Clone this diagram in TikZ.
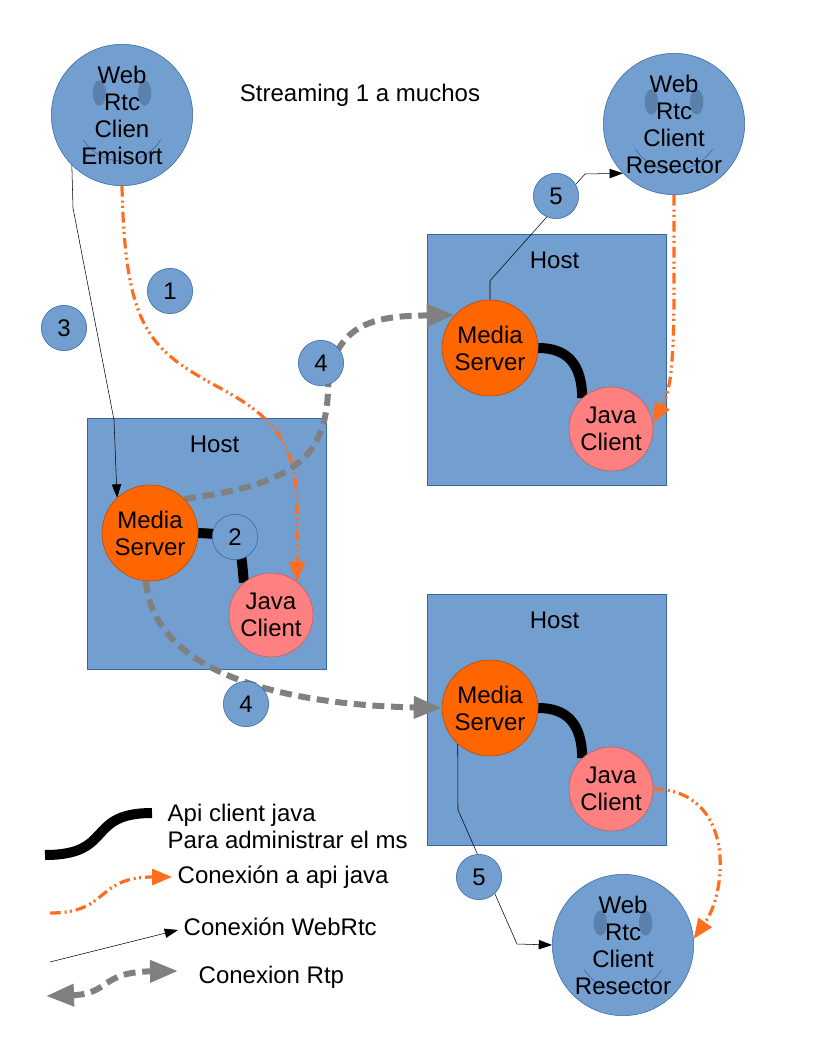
\documentclass[tikz,border=0pt]{standalone}
\usepackage{fontspec}
\setmainfont{Liberation Sans}
\usetikzlibrary{arrows.meta}

\definecolor{hostblue}{HTML}{729FCF}
\definecolor{edgeblue}{HTML}{3465A4}
\definecolor{eyeblue}{HTML}{5A80AE}
\definecolor{msorange}{HTML}{FF6600}
\definecolor{msedge}{HTML}{B34700}
\definecolor{jcpink}{HTML}{FF8080}
\definecolor{jcedge}{HTML}{B36060}
\definecolor{linkorange}{HTML}{FF6D1F}
\definecolor{rtpgray}{HTML}{808080}

\pgfdeclarelayer{hostlayer}
\pgfdeclarelayer{linklayer}
\pgfsetlayers{hostlayer,linklayer,main}

\begin{document}
\begin{tikzpicture}[x=0.75pt, y=-0.75pt,
    every node/.style={font=\fontsize{18}{20.25}\selectfont},
    client/.style={circle, draw=edgeblue, fill=hostblue, minimum size=106pt, inner sep=0pt, align=center,
      path picture={
        \fill[eyeblue] ([shift={(-17pt,16.5pt)}]path picture bounding box.center) ellipse [x radius=5pt, y radius=9.5pt];
        \fill[eyeblue] ([shift={(17pt,16.5pt)}]path picture bounding box.center) ellipse [x radius=5pt, y radius=9.5pt];
        \draw[edgeblue, thin] ([shift={(213:34.5pt)}]path picture bounding box.center) arc [start angle=213, end angle=327, radius=34.5pt];
      }},
    host/.style={rectangle, draw=edgeblue, fill=hostblue, minimum width=179pt, minimum height=188pt,
      label={[anchor=north, yshift=-10pt, xshift=6pt]north:Host}},
    server/.style={circle, draw=msedge, fill=msorange, minimum size=72pt, inner sep=0pt, align=center},
    javac/.style={circle, draw=jcedge, fill=jcpink, minimum size=63pt, inner sep=0pt, align=center},
    num/.style={circle, draw=edgeblue, fill=hostblue, minimum size=34pt, inner sep=0pt},
    apiline/.style={line width=7.5pt},
    javaconn/.style={linkorange, line width=2.4pt, dash pattern=on 8pt off 3pt on 1.5pt off 2.5pt on 1.5pt off 3pt,
      -{Triangle[length=15pt, width=12pt]}},
    webrtc/.style={black, thin, -{Triangle[length=10pt, width=7pt]}},
    rtp/.style={rtpgray, line width=4.5pt, dash pattern=on 9pt off 5pt,
      -{Triangle[length=21pt, width=16pt]}}]
  \useasboundingbox (0,0) rectangle (816,1056);

  % hosts
  \begin{pgfonlayer}{hostlayer}
    \node[host] (host1) at (206.5,543.5) {};
    \node[host] (host2) at (546.5,359.5) {};
    \node[host] (host3) at (546.5,719.5) {};
  \end{pgfonlayer}

  % clients and servers
  \node[client] (emisor) at (122,115) {Web\\Rtc\\Clien\\Emisort};
  \node[client] (restop) at (674,124) {Web\\Rtc\\Client\\Resector};
  \node[client] (resbot) at (623,945) {Web\\Rtc\\Client\\Resector};
  \node (title) at (360,95) {Streaming 1 a muchos};

  \node[server] (ms1) at (150,533) {Media\\Server};
  \node[server] (ms2) at (490,348) {Media\\Server};
  \node[server] (ms3) at (490,708) {Media\\Server};
  \node[javac] (jc1) at (271,615) {Java\\Client};
  \node[javac] (jc2) at (611,429) {Java\\Client};
  \node[javac] (jc3) at (611,789) {Java\\Client};

  % connections
  \begin{pgfonlayer}{linklayer}
    \draw[apiline] (ms1.east) .. controls (240,535) .. (jc1.130);
    \draw[apiline] (ms2.east) .. controls (568,348) and (582,365) .. (jc2.133);
    \draw[apiline] (ms3.east) .. controls (568,708) and (582,725) .. (jc3.133);

    \draw[webrtc] (emisor.225) -- (73,208) -- (114,420) -- (ms1.133);
    \draw[webrtc] (ms2.north) -- ++(0,-19) -- (585,174) -- (restop.224);
    \draw[webrtc] (ms3.228) -- (458,810) -- (517,944) -- (resbot.west);

    \draw[javaconn] (emisor.south) .. controls (125,330) and (150,350) .. (220,388)
      .. controls (270,415) and (295,440) .. (297,500) -- (jc1.52);
    \draw[javaconn] (restop.south) -- (674,290) .. controls (674,380) and (668,395) .. (jc2.8);
    \draw[javaconn] (jc3.east) .. controls (735,790) and (728,890) .. (resbot.5);

    \draw[rtp] (ms1.45) .. controls (290,485) and (326,460) .. (328,390) .. controls (332,320) and (380,316) .. (ms2.137);
    \draw[rtp] (ms1.265) .. controls (155,680) and (300,705) .. (ms3.west);
  \end{pgfonlayer}

  % step numbers
  \node[num] (n1) at (170,291) {1};
  \node[num] (n2) at (235,537) {2};
  \node[num] (n3) at (64,328) {3};
  \node[num] (n4a) at (321,363) {4};
  \node[num] (n4b) at (246,704) {4};
  \node[num] (n5a) at (556,196) {5};
  \node[num] (n5b) at (479,877) {5};

  % legend
  \coordinate (ka) at (45,855);
  \coordinate (kb) at (152,813);
  \coordinate (ja) at (50,913);
  \coordinate (jb) at (172,877);
  \coordinate (wa) at (50,962);
  \coordinate (wb) at (178,930);
  \coordinate (ra) at (46,996);
  \coordinate (rb) at (178,971);
  \draw[apiline] (ka) .. controls (115,855) and (85,813) .. (kb);
  \draw[javaconn] (ja) .. controls (110,913) and (95,877) .. (jb);
  \draw[webrtc] (wa) -- (wb);
  \draw[rtp, {Triangle[length=21pt, width=16pt]}-{Triangle[length=21pt, width=16pt]}] (ra) .. controls (110,994) and (100,972) .. (rb);
  \node[anchor=west, align=left] (lgapi) at (163,826) {Api client java\\Para administrar el ms};
  \node[anchor=west] (lgjava) at (173,877) {Conexión a api java};
  \node[anchor=west] (lgweb) at (179,927) {Conexión WebRtc};
  \node[anchor=west] (lgrtp) at (194,977) {Conexion Rtp};
\end{tikzpicture}
\end{document}
